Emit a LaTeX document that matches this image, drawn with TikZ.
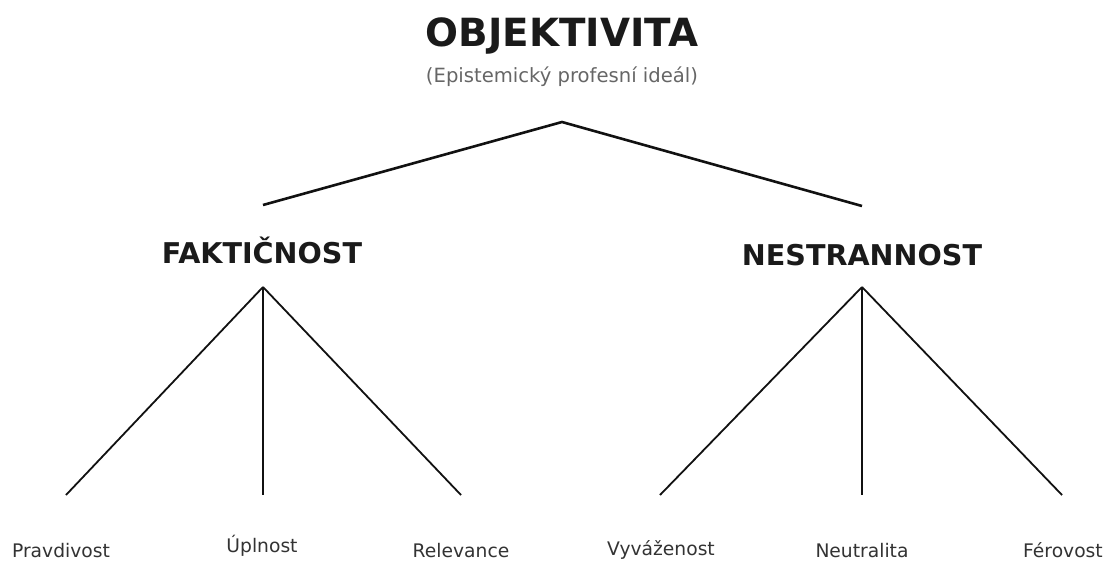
\documentclass[tikz,border=0pt]{standalone}
\usepackage{fontspec}
\setmainfont{DejaVu Sans}
\definecolor{headc}{HTML}{1A1A1A}
\definecolor{subc}{HTML}{666666}
\definecolor{leafc}{HTML}{333333}
\definecolor{linec}{HTML}{111111}
\begin{document}
\begin{tikzpicture}[x=1pt,y=-1pt,
  title/.style={anchor=base,inner sep=0pt,text=headc,font=\bfseries\fontsize{38.8}{46}\selectfont},
  subtitle/.style={anchor=base,inner sep=0pt,text=subc,font=\fontsize{19.6}{23}\selectfont},
  mid/.style={anchor=base,inner sep=0pt,text=headc,font=\bfseries\fontsize{28.6}{34}\selectfont},
  leaf/.style={anchor=base,inner sep=0pt,text=leafc,font=\fontsize{18.7}{22}\selectfont},
  thick line/.style={draw=linec,line width=2.6pt},
  thin line/.style={draw=linec,line width=1.8pt}]
\useasboundingbox[fill=white] (0,0) rectangle (1110,560);
\node[title] (obj) at (562,46) {OBJEKTIVITA};
\node[subtitle] (sub) at (562,82) {(Epistemický profesní ideál)};
\node[mid] (fak) at (262,263) {FAKTIČNOST};
\node[mid] (nes) at (862,265) {NESTRANNOST};
\node[leaf] (p1) at (61,557) {Pravdivost};
\node[leaf] (p2) at (262,552) {Úplnost};
\node[leaf] (p3) at (461,557) {Relevance};
\node[leaf] (n1) at (661,555) {Vyváženost};
\node[leaf] (n2) at (862,557) {Neutralita};
\node[leaf] (n3) at (1063,557) {Férovost};
\coordinate (objb) at (562,122);
\coordinate (fakt) at (263,205);
\coordinate (nest) at (862,206);
\coordinate (fakb) at (263,287);
\coordinate (nesb) at (862,287);
\coordinate (p1t) at (66,495);
\coordinate (p2t) at (263,495);
\coordinate (p3t) at (461,495);
\coordinate (n1t) at (660,495);
\coordinate (n2t) at (862,495);
\coordinate (n3t) at (1062,495);
\draw[thick line,line join=miter] (fakt) -- (objb) -- (nest);
\draw[thin line] (fakb) -- (p1t);
\draw[thin line] (fakb) -- (p2t);
\draw[thin line] (fakb) -- (p3t);
\draw[thin line] (nesb) -- (n1t);
\draw[thin line] (nesb) -- (n2t);
\draw[thin line] (nesb) -- (n3t);
\end{tikzpicture}
\end{document}
